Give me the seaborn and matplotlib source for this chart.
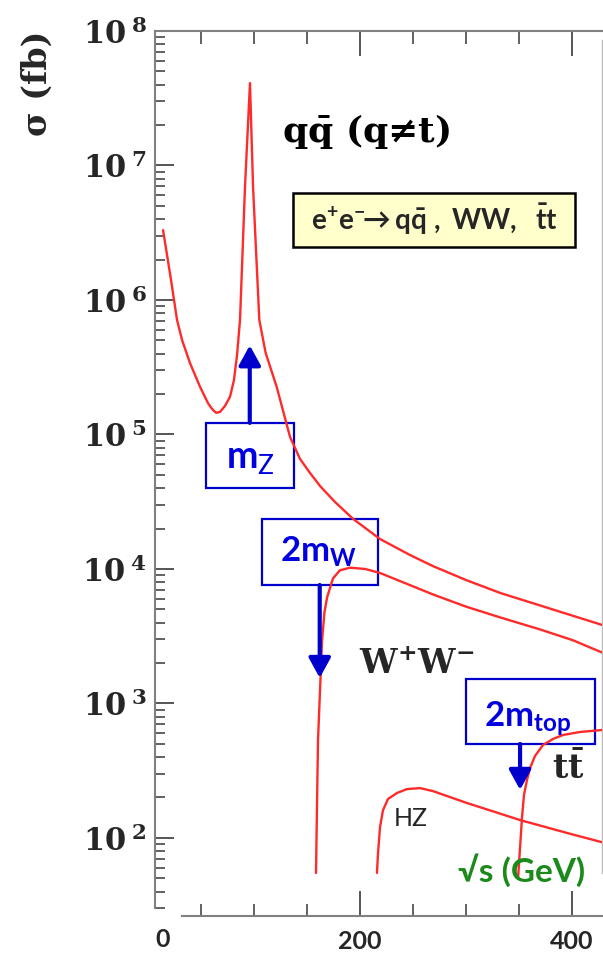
import numpy as np
import pandas as pd
import matplotlib
matplotlib.use("Agg")
import matplotlib.pyplot as plt
import seaborn as sns
from matplotlib.ticker import FixedLocator, FixedFormatter, LogLocator, NullFormatter
from matplotlib.patches import Rectangle

# ---------------- data ----------------
qq_x = [14.2, 21.7, 27.4, 32.1, 39.6, 49.1, 56.6, 60.4, 64.2, 67.9, 72.6, 77.4, 81.1, 84.0,
        86.8, 91.5, 96.2, 99.1, 105.0, 111.0, 121.4, 134.0, 143.4, 152.8, 162.3, 176.4,
        193.4, 218.9, 247.2, 268.9, 300.0, 332.1, 380.2, 428.3]
qq_sigma = [3.31e6, 1.41e6, 7.10e5, 5.05e5, 3.40e5, 2.26e5, 1.71e5, 1.55e5, 1.45e5, 1.47e5,
            1.63e5, 1.91e5, 2.54e5, 3.90e5, 7.10e5, 6.92e6, 4.10e7, 6.92e6, 7.10e5, 4.04e5,
            2.26e5, 9.58e4, 6.58e4, 5.18e4, 4.14e4, 3.15e4, 2.36e4, 1.67e4, 1.27e4, 1.05e4,
            8.28e3, 6.64e3, 5.05e3, 3.84e3]

ww_x = [158.5, 159.5, 160.4, 164.2, 166.5, 169, 174.5, 181, 190.6, 205, 219, 269, 300, 332, 370, 401, 428]
ww_sigma = [55, 190, 537, 2950, 4790, 6170, 8510, 9770, 10230, 10000, 9330, 6460, 5250, 4370, 3550, 2950, 2400]

hz_x = [216.0, 216.9, 218.9, 221.7, 226.4, 234.9, 244.3, 256.6, 268.9, 300.9, 350.9, 395.3, 428.3]
hz_sigma = [55, 75, 121, 161, 195, 216, 231, 235, 223, 182, 136, 109, 93]

tt_x = [349.1, 352.8, 354.7, 357.5, 360.4, 365.1, 372.6, 382.1, 391.5, 407.5, 428.3]
tt_sigma = [50, 141, 209, 269, 331, 407, 491, 545, 583, 614, 635]

y_ticks = [1e2, 1e3, 1e4, 1e5, 1e6, 1e7, 1e8]
y_tick_labels = [r"$\mathbf{10}^{\;\mathbf{%d}}$" % e for e in [2, 3, 4, 5, 6, 7, 8]]
x_major = [200, 400]
x_major_labels = ["200", "400"]
x_minor = [50, 100, 150, 250, 300, 350]

# threshold annotations: x position, arrow tail, arrow head
thr_x = [96, 162, 351]
thr_tail = [1.22e5, 7.6e3, 500]
thr_head = [4.6e5, 1.55e3, 228]

# ---------------- style ----------------
sns.set_style("white")
plt.rcParams["mathtext.fontset"] = "custom"
plt.rcParams["mathtext.rm"] = "Lato"
plt.rcParams["mathtext.bf"] = "Lato:bold"
plt.rcParams["mathtext.it"] = "Lato:italic"

RED = "#ff2a2a"
BLUE = "#0000cc"
BLUE_TXT = "#0000e0"
GREEN = "#1b8a1b"
SPINE = "#808080"

fig = plt.figure(figsize=(6.03, 9.56), dpi=100)
ax = fig.add_axes([155 / 603, 40 / 956, 447 / 603, 885 / 956])

for xs, ys in [(qq_x, qq_sigma), (ww_x, ww_sigma), (hz_x, hz_sigma), (tt_x, tt_sigma)]:
    df = pd.DataFrame({"sqrt_s": xs, "sigma": ys})
    sns.lineplot(data=df, x="sqrt_s", y="sigma", ax=ax, color=RED, lw=1.7,
                 sort=False, estimator=None, zorder=3)

ax.set_yscale("log")
ax.set_xlim(6.6, 428.3)
ax.set_ylim(26.3, 1e8)
ax.set_xlabel("")
ax.set_ylabel("")

# y ticks
ax.yaxis.set_major_locator(FixedLocator(y_ticks))
ax.yaxis.set_major_formatter(FixedFormatter(y_tick_labels))
ax.yaxis.set_minor_locator(LogLocator(base=10, subs=np.arange(2, 10), numticks=50))
ax.yaxis.set_minor_formatter(NullFormatter())
for lbl in ax.get_yticklabels():
    lbl.set_math_fontfamily("dejavuserif")
ax.tick_params(axis="y", which="major", direction="in", length=14, width=1.4,
               color="#555555", pad=6, labelsize=22, left=True, right=False)
ax.tick_params(axis="y", which="minor", direction="in", length=7, width=1.3,
               color="#555555", left=True, right=False)

# x ticks
ax.xaxis.set_major_locator(FixedLocator(x_major))
ax.xaxis.set_major_formatter(FixedFormatter(x_major_labels))
ax.xaxis.set_minor_locator(FixedLocator(x_minor))
ax.tick_params(axis="x", which="major", direction="in", length=18, width=1.4,
               color="#555555", pad=10, labelsize=18, top=True, bottom=True)
ax.tick_params(axis="x", which="minor", direction="in", length=9, width=1.3,
               color="#555555", top=True, bottom=True)
for lbl in ax.get_xticklabels():
    lbl.set_fontfamily(["Lato", "DejaVu Sans"])
    lbl.set_fontweight("bold")
ax.text(14, -0.027, "0", transform=ax.get_xaxis_transform(), ha="center", va="center",
        fontsize=18, fontweight="bold", family=["Lato", "DejaVu Sans"])

# spines
for s in ["left", "top", "bottom"]:
    ax.spines[s].set_color(SPINE)
    ax.spines[s].set_linewidth(1.5)
ax.spines["left"].set_bounds(30, 1e8)
ax.spines["bottom"].set_bounds(32, 428.3)
ax.spines["right"].set_color("#bbbbbb")
ax.spines["right"].set_linewidth(1.0)
ax.spines["right"].set_bounds(55, 8.6e7)

# axis label
fig.text(0.062, 0.913, "σ (fb)", rotation=90, ha="center", va="center",
         fontsize=24, fontweight="bold", family=["DejaVu Serif"])

# process labels
ax.text(0.284, 0.887, r"q$\mathbf{\bar{q}}$ (q≠t)", transform=ax.transAxes,
        ha="left", va="center", fontsize=26, fontweight="bold", family=["DejaVu Serif"],
        math_fontfamily="dejavuserif", color="black")
ax.text(0.586, 0.284, r"$\mathbf{W^{+}W^{-}}$", transform=ax.transAxes,
        ha="center", va="center", fontsize=24, math_fontfamily="dejavuserif")
ax.text(0.924, 0.167, r"t$\mathbf{\bar{t}}$", transform=ax.transAxes,
        ha="center", va="center", fontsize=24, fontweight="bold", family=["DejaVu Serif"],
        math_fontfamily="dejavuserif")
ax.text(0.573, 0.110, "HZ", transform=ax.transAxes, ha="center", va="center",
        fontsize=18, family=["Lato", "DejaVu Sans"])
ax.text(0.821, 0.052, "√s (GeV)", transform=ax.transAxes, ha="center", va="center",
        fontsize=24, fontweight="bold", color=GREEN, family=["Lato", "DejaVu Sans"])

# legend-like box
ax.add_patch(Rectangle((0.3087, 0.7559), 0.6309, 0.0610, transform=ax.transAxes,
                       facecolor="#ffffcc", edgecolor="black", lw=1.8, zorder=4))
ax.text(0.624, 0.787, r"$\mathbf{e^{+}e^{-}\!\!\rightarrow q\bar{q}\ ,\ WW,\ \ \bar{t}t}$",
        transform=ax.transAxes, ha="center", va="center", fontsize=20,
        math_fontfamily="custom", zorder=5)

# threshold boxes
boxes = [(0.114, 0.4836, 0.197, 0.0734), (0.2394, 0.374, 0.2595, 0.0746),
         (0.6957, 0.1944, 0.2886, 0.0734)]
box_text = [r"$\mathbf{m}_{\mathrm{Z}}$", r"$\mathbf{2m}_{\mathbf{W}}$", r"$\mathbf{2m}_{\mathbf{top}}$"]
text_pos = [(0.2125, 0.518), (0.365, 0.411), (0.834, 0.223)]
box_fs = [27, 25, 25]
for (bx, by, bw, bh), t, (tx, ty), fs in zip(boxes, box_text, text_pos, box_fs):
    ax.add_patch(Rectangle((bx, by), bw, bh, transform=ax.transAxes, facecolor="none",
                           edgecolor=BLUE, lw=1.6, zorder=2))
    ax.text(tx, ty, t, transform=ax.transAxes, ha="center", va="center", fontsize=fs,
            color=BLUE_TXT, math_fontfamily="custom", zorder=5)

for x0, y0, y1 in zip(thr_x, thr_tail, thr_head):
    ax.annotate("", xy=(x0, y1), xytext=(x0, y0),
                arrowprops=dict(arrowstyle="-|>,head_length=0.6,head_width=0.33",
                                color=BLUE, lw=3, mutation_scale=20,
                                shrinkA=0, shrinkB=0), zorder=5)

fig.savefig("out.png", dpi=100, facecolor="white")
